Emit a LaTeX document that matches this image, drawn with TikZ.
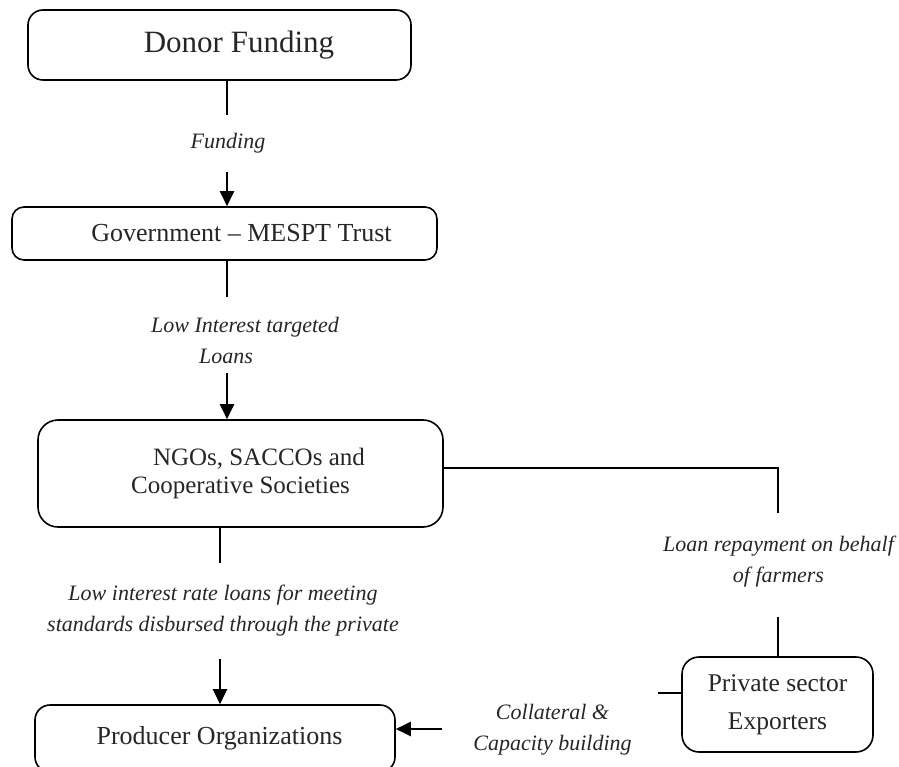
\documentclass[tikz,border=0pt]{standalone}
\usepackage{fontspec}
\setmainfont{Liberation Serif}
\usetikzlibrary{arrows.meta,calc}
\begin{document}
\begin{tikzpicture}[x=1pt,y=-1pt,
  box/.style={draw, line width=1.6pt, rounded corners=#1, inner sep=0pt, align=center, text=black!85, font=\fontsize{25}{28}\selectfont},
  box/.default=15pt,
  conn/.style={line width=2.2pt},
  arr/.style={line width=2.2pt, -{Triangle[length=15pt,width=14pt]}},
  lbl/.style={inner sep=0pt, align=center, text=black!85, font=\fontsize{22}{31}\selectfont\itshape}]
\useasboundingbox (0,0) rectangle (899,767);
% boxes
\node[box=15pt, minimum width=383pt, minimum height=70pt, font=\fontsize{31}{34}\selectfont] (donor) at (219.5,45) {\hspace*{39pt}Donor Funding};
\node[box=12pt, minimum width=425pt, minimum height=53pt, font=\fontsize{26}{30}\selectfont] (gov) at (224.5,233.5) {\hspace*{34pt}Government – MESPT Trust};
\node[box=20pt, minimum width=405pt, minimum height=107pt] (ngo) at (240.5,473.5) {\hspace*{37pt}NGOs, SACCOs and\\Cooperative Societies};
\node[box=15pt, minimum width=360pt, minimum height=67pt, font=\fontsize{26}{30}\selectfont] (prod) at (215,738.5) {\hspace*{9pt}Producer Organizations};
\node[box=17pt, minimum width=191pt, minimum height=95pt, font=\fontsize{25.5}{38}\selectfont] (priv) at (777.5,704.5) {Private sector\\Exporters};
% labels
\node[lbl] (lfund) at (228,143) {Funding};
\node[lbl] (llit) at (226,340) {\hspace*{38pt}Low Interest targeted\\Loans};
\node[lbl] (llow) at (223,611) {Low interest rate loans for meeting\\standards disbursed through the private};
\node[lbl] (lrep) at (778.5,562) {Loan repayment on behalf\\of farmers};
\node[lbl] (lcol) at (552.5,730) {Collateral \&\\Capacity building};
% connectors
\coordinate (s1) at (227,115);
\coordinate (e1) at (227,172);
\draw[conn] (donor.south -| s1) -- (s1);
\draw[arr] (e1) -- (gov.north -| e1);
\coordinate (s2) at (227,297);
\coordinate (e2) at (227,373);
\draw[conn] (gov.south -| s2) -- (s2);
\draw[arr] (e2) -- (ngo.north -| e2);
\coordinate (s3) at (220,563);
\coordinate (e3) at (220,659);
\draw[conn] (ngo.south -| s3) -- (s3);
\draw[arr] (e3) -- (prod.north -| e3);
\coordinate (k1) at (778,468);
\coordinate (s4) at (778,513);
\draw[conn] (ngo.east |- k1) -- (k1) -- (s4);
\coordinate (e4) at (778,617);
\draw[conn] (e4) -- (priv.north -| e4);
\coordinate (s5) at (658,693);
\draw[conn] (priv.west |- s5) -- (s5);
\coordinate (e5) at (442,729);
\draw[arr] (e5) -- (prod.east |- e5);
\end{tikzpicture}
\end{document}
